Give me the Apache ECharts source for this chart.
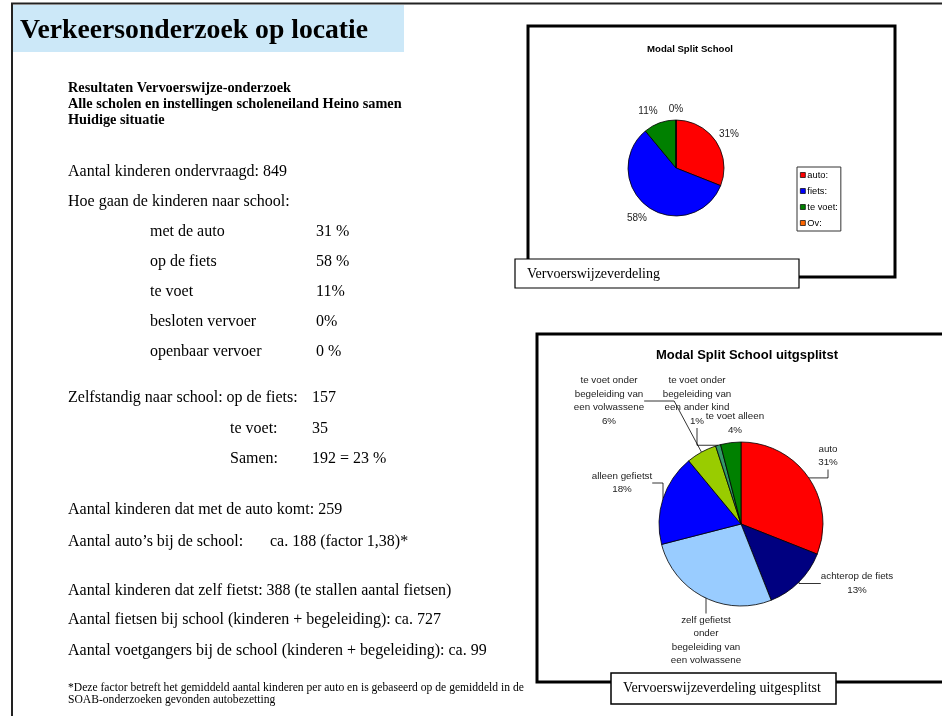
<!DOCTYPE html>
<html>
<head>
<meta charset="utf-8">
<script src="https://cdn.jsdelivr.net/npm/echarts@6/dist/echarts.min.js"></script>
<style>
html,body{margin:0;padding:0;background:#fff;}
#main{width:942px;height:716px;}
</style>
</head>
<body>
<div id="main"></div>
<script>
// ---- data ----
const topCategories = ['auto:', 'fiets:', 'te voet:', 'Ov:'];
const topValues = [31, 58, 11, 0];
const topColors = ['#FF0000', '#0000FF', '#008000', '#FF6600'];

const detailCategories = [
  'auto',
  'achterop de fiets',
  'zelf gefietst\nonder\nbegeleiding van\neen volwassene',
  'alleen gefietst',
  'te voet onder\nbegeleiding van\neen volwassene',
  'te voet onder\nbegeleiding van\neen ander kind',
  'te voet alleen'
];
const detailValues = [31, 13, 27, 18, 6, 1, 4];
const detailColors = ['#FF0000', '#000080', '#99CCFF', '#0000FF', '#99CC00', '#339966', '#008000'];

const modeLabels = ['met de auto', 'op de fiets', 'te voet', 'besloten vervoer', 'openbaar vervoer'];
const modePercents = ['31 %', '58 %', '11%', '0%', '0 %'];

const SERIF = '"Liberation Serif", "Times New Roman", serif';
const SANS = '"Liberation Sans", Arial, sans-serif';
const BODY = 16;

function txt(x, y, text, size, opts) {
  opts = opts || {};
  return {
    type: 'text', x: x, y: y, z: opts.z || 10,
    style: {
      text: text,
      font: (opts.bold ? 'bold ' : '') + size + 'px ' + (opts.font || SERIF),
      fill: opts.color || '#000',
      textAlign: opts.align || 'left',
      textVerticalAlign: 'middle'
    }
  };
}

const graphics = [
  // page frame
  { type: 'line', z: 1, shape: { x1: 11, y1: 3.5, x2: 942, y2: 3.5 }, style: { stroke: '#222', lineWidth: 2 } },
  { type: 'line', z: 1, shape: { x1: 12, y1: 3, x2: 12, y2: 716 }, style: { stroke: '#222', lineWidth: 2 } },
  { type: 'rect', z: 1, shape: { x: 13, y: 5, width: 391, height: 47 }, style: { fill: '#CCE8F8' } },
  // chart boxes
  { type: 'rect', z: 0, shape: { x: 528, y: 26, width: 367, height: 251 }, style: { fill: '#fff', stroke: '#000', lineWidth: 3 } },
  { type: 'rect', z: 0, shape: { x: 537, y: 334, width: 420, height: 348 }, style: { fill: '#fff', stroke: '#000', lineWidth: 3 } },
  // caption boxes
  { type: 'rect', z: 50, shape: { x: 515, y: 259, width: 284, height: 29 }, style: { fill: '#fff', stroke: '#000', lineWidth: 1.2 } },
  { type: 'rect', z: 50, shape: { x: 611, y: 673, width: 225, height: 31 }, style: { fill: '#fff', stroke: '#000', lineWidth: 1.5 } },
  txt(527, 274, 'Vervoerswijzeverdeling', 14, { z: 51 }),
  txt(623, 688, 'Vervoerswijzeverdeling uitgesplitst', 14, { z: 51 }),
  // chart titles
  txt(690, 49, 'Modal Split School', 9.6, { bold: true, font: SANS, align: 'center' }),
  txt(747, 355, 'Modal Split School uitgsplitst', 13, { bold: true, font: SANS, align: 'center' }),
  // page title
  txt(20, 31, 'Verkeersonderzoek op locatie', 27.7, { bold: true }),
  txt(68, 88, 'Resultaten Vervoerswijze-onderzoek', 14.3, { bold: true }),
  txt(68, 104, 'Alle scholen en instellingen scholeneiland Heino samen', 14.3, { bold: true }),
  txt(68, 120, 'Huidige situatie', 14.3, { bold: true }),
  txt(68, 172, 'Aantal kinderen ondervraagd: 849', BODY),
  txt(68, 202, 'Hoe gaan de kinderen naar school:', BODY),
  txt(68, 398, 'Zelfstandig naar school: op de fiets:', BODY),
  txt(312, 398, '157', BODY),
  txt(230, 429, 'te voet:', BODY),
  txt(312, 429, '35', BODY),
  txt(230, 459, 'Samen:', BODY),
  txt(312, 459, '192 = 23 %', BODY),
  txt(68, 510, 'Aantal kinderen dat met de auto komt: 259', BODY),
  txt(68, 542, 'Aantal auto\u2019s bij de school:', BODY),
  txt(270, 542, 'ca. 188 (factor 1,38)*', BODY),
  txt(68, 591, 'Aantal kinderen dat zelf fietst: 388 (te stallen aantal fietsen)', BODY),
  txt(68, 620, 'Aantal fietsen bij school (kinderen + begeleiding): ca. 727', BODY),
  txt(68, 651, 'Aantal voetgangers bij de school (kinderen + begeleiding): ca. 99', BODY),
  txt(68, 688, '*Deze factor betreft het gemiddeld aantal kinderen per auto en is gebaseerd op de gemiddeld in de', 11.6),
  txt(68, 700, 'SOAB-onderzoeken gevonden autobezetting', 11.6)
];
modeLabels.forEach(function (m, i) {
  graphics.push(txt(150, 232 + 30 * i, m, BODY));
  graphics.push(txt(316, 232 + 30 * i, modePercents[i], BODY));
});

// label anchor positions (layout only)
const topLabelPos = [[729, 134], [637, 218], [648, 111], [676, 109]];
const detailLabelPos = [[828, 456], [857, 583.5], [706, 640.5], [622, 483], [609, 401], [697, 401], [735, 423.5]];

const chart = echarts.init(document.getElementById('main'), null, { renderer: 'canvas' });
chart.setOption({
  animation: false,
  backgroundColor: '#fff',
  graphic: { elements: graphics },
  legend: {
    data: topCategories,
    orient: 'vertical',
    left: 797, top: 167,
    padding: [3, 3, 3, 3],
    borderColor: '#333', borderWidth: 1,
    itemWidth: 5, itemHeight: 5, itemGap: 6,
    icon: 'rect',
    selectedMode: false,
    itemStyle: { borderColor: '#000', borderWidth: 0.7 },
    textStyle: { fontFamily: SANS, fontSize: 9.3, color: '#000', padding: [0, 0, 0, -3], lineHeight: 10 },
    z: 20
  },
  series: [
    {
      type: 'pie',
      z: 20,
      center: [676, 168],
      radius: 48,
      startAngle: 90,
      clockwise: true,
      stillShowZeroSum: true,
      minShowLabelAngle: 0,
      avoidLabelOverlap: false,
      itemStyle: { borderColor: '#000', borderWidth: 0.8 },
      label: { show: true, formatter: '{d}%', fontFamily: SANS, fontSize: 10, color: '#222' },
      labelLine: { show: false },
      labelLayout: function (p) {
        const pos = topLabelPos[p.dataIndex];
        return { x: pos[0], y: pos[1], align: 'center', verticalAlign: 'middle' };
      },
      emphasis: { disabled: true },
      data: topCategories.map(function (c, i) {
        return { name: c, value: topValues[i], itemStyle: { color: topColors[i] } };
      })
    },
    {
      type: 'pie',
      z: 20,
      center: [741, 524],
      radius: 82,
      startAngle: 90,
      clockwise: true,
      avoidLabelOverlap: false,
      itemStyle: { borderColor: '#000', borderWidth: 0.8 },
      label: {
        show: true,
        // the percentage of the light-blue slice is hidden behind the caption box in the original
        formatter: function (p) { return p.dataIndex === 2 ? p.name : p.name + '\n' + p.percent + '%'; },
        fontFamily: SANS, fontSize: 9.8,
        color: '#222', lineHeight: 13.5, align: 'center'
      },
      labelLine: { show: true, lineStyle: { color: '#000', width: 0.8 } },
      labelLayout: function (p) {
        const pos = detailLabelPos[p.dataIndex];
        return { x: pos[0], y: pos[1], align: 'center', verticalAlign: 'middle' };
      },
      emphasis: { disabled: true },
      data: detailCategories.map(function (c, i) {
        return {
          name: c, value: detailValues[i],
          itemStyle: { color: detailColors[i] },
          labelLine: { show: i !== 6 }
        };
      })
    }
  ]
});
</script>
</body>
</html>
